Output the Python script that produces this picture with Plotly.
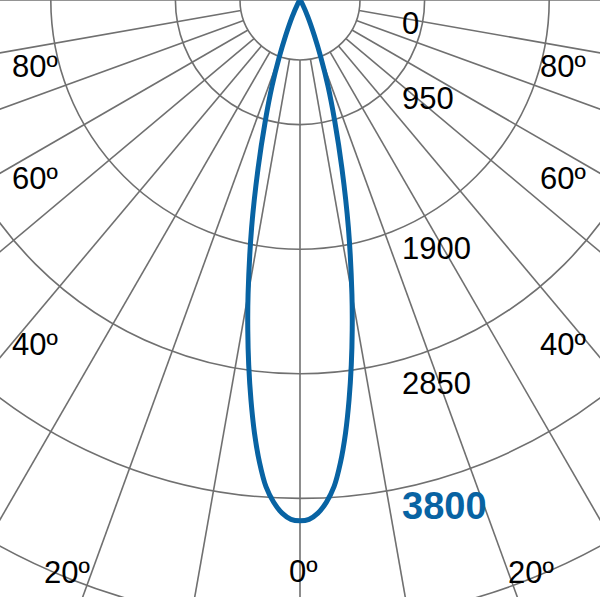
import numpy as np
import plotly.graph_objects as go

# luminous intensity curve (cd), half-profile, symmetric about 0 deg
angles_deg = [0, 1, 2, 3, 4, 5, 6, 7, 8, 9, 10, 12, 14, 16, 18, 20, 22, 25, 30, 35, 40, 50, 60, 70, 80, 90]
intensity = [3970, 3960, 3915, 3835, 3720, 3540, 3320, 3070, 2810, 2545, 2280, 1775, 1320, 960,
             690, 460, 290, 140, 40, 10, 0, 0, 0, 0, 0, 0]

ring_values = [950, 1900, 2850, 3800, 4750]
ring_labels = [0, 950, 1900, 2850, 3800]
spoke_angles = list(range(-90, 91, 10))
angle_labels = [80, 60, 40, 20, 0, 20, 40, 60, 80]

W, H = 600, 597
k = 124.6 / 950  # px per cd
hole = 60 / k
grid = "#707070"
blue = "#0863a3"

# mirror the half profile
th = np.radians(np.concatenate([-np.array(angles_deg[::-1]), np.array(angles_deg[1:])]))
ii = np.concatenate([np.array(intensity[::-1]), np.array(intensity[1:])])

fig = go.Figure()
fig.add_trace(go.Scatter(
    x=ii * np.sin(th), y=-ii * np.cos(th), mode="lines",
    line=dict(color=blue, width=5, shape="spline", smoothing=0.8),
    hoverinfo="skip", showlegend=False,
))

shapes = []
for r in [hole] + ring_values:
    shapes.append(dict(type="circle", xref="x", yref="y", x0=-r, y0=-r, x1=r, y1=r,
                       line=dict(color=grid, width=1.6), layer="below"))
for a in spoke_angles:
    t = np.radians(a)
    shapes.append(dict(type="line", xref="x", yref="y",
                       x0=hole * np.sin(t), y0=-hole * np.cos(t),
                       x1=8000 * np.sin(t), y1=-8000 * np.cos(t),
                       line=dict(color=grid, width=1.6), layer="below"))
shapes.append(dict(type="line", xref="x", yref="y", x0=-hole, y0=0, x1=hole, y1=0,
                   line=dict(color=grid, width=1.6), layer="below"))

annotations = []
ring_pos = [24, 99, 248, 383, 506]
for v, py in zip(ring_labels, ring_pos):
    last = v == ring_labels[-1]
    annotations.append(dict(
        x=400 / W, y=1 - py / H, xref="paper", yref="paper", xanchor="left", yanchor="middle",
        text=f"<b>{v}</b>" if last else str(v), showarrow=False,
        font=dict(family="Liberation Sans, Arial", size=38 if last else 31,
                  color=blue if last else "black"),
    ))
angle_pos = [(35, 67), (35, 179), (35, 345), (67, 572), (303, 571),
             (531, 572), (563, 345), (563, 179), (563, 66)]
for v, (px, py) in zip(angle_labels, angle_pos):
    annotations.append(dict(
        x=px / W, y=1 - py / H, xref="paper", yref="paper", xanchor="center", yanchor="middle",
        text=f"{v}º", showarrow=False,
        font=dict(family="Liberation Sans, Arial", size=31, color="black"),
    ))

fig.update_layout(
    width=W, height=H, margin=dict(l=0, r=0, t=0, b=0),
    paper_bgcolor="white", plot_bgcolor="white",
    xaxis=dict(range=[-300 / k, 300 / k], visible=False, fixedrange=True),
    yaxis=dict(range=[-H / k, 0], visible=False, fixedrange=True),
    shapes=shapes, annotations=annotations,
)
fig.write_html("out.html", config={"displayModeBar": False},
               post_script="document.body.style.margin='0';")
